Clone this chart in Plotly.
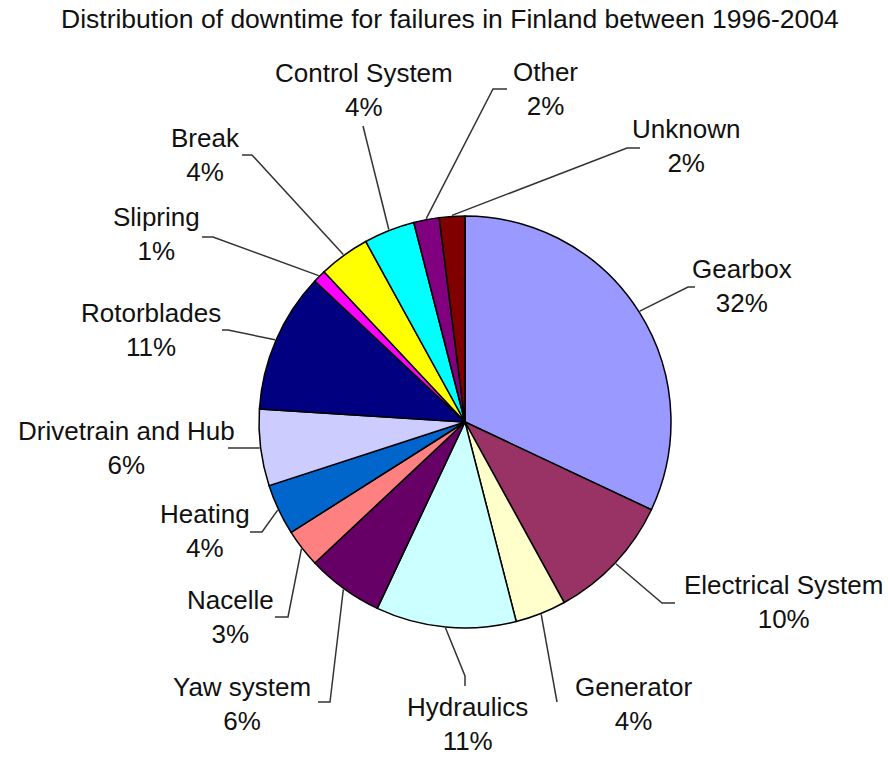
import math
import plotly.graph_objects as go

# ---------------- data ----------------
title_text = "Distribution of downtime for failures in Finland between 1996-2004"
categories = ["Gearbox", "Electrical System", "Generator", "Hydraulics", "Yaw system",
              "Nacelle", "Heating", "Drivetrain and Hub", "Rotorblades", "Slipring",
              "Break", "Control System", "Other", "Unknown"]
downtime_pct = [32, 10, 4, 11, 6, 3, 4, 6, 11, 1, 4, 4, 2, 2]

# ---------------- styling / layout ----------------
colors = ["#9999FF", "#993366", "#FFFFCC", "#CCFFFF", "#660066", "#FF8080", "#0066CC",
          "#CCCCFF", "#000080", "#FF00FF", "#FFFF00", "#00FFFF", "#800080", "#800000"]

W, H = 888, 758
PAGE_OFF = 0               # body margin removed via post_script
CX, CY, R = 465, 422, 206  # pie centre and radius in screen pixels
FONT = "Liberation Sans, Arial, sans-serif"

label_pos = [(742, 286), (783, 602), (633, 704), (467, 724), (242, 704), (230, 617),
             (205, 531), (126, 448), (151, 330), (156, 234), (205, 155), (364, 90),
             (545, 89), (686, 146)]
leader_elbows = [
    [(688, 287), (695, 287)],
    [(662, 603), (675, 603)],
    [(557, 702)],
    [(465, 676), (465, 686)],
    [(330, 702), (318, 702)],
    [(288, 617), (275, 617)],
    [(262, 532), (250, 532)],
    [(228, 448)],
    [(228, 330), (222, 330)],
    [(213, 237), (202, 237)],
    [(252, 155), (242, 155)],
    [(363, 126)],
    [(493, 89), (507, 89)],
    [(627, 148), (640, 148)],
]

fig = go.Figure()

pcx, pcy = CX - PAGE_OFF, CY - PAGE_OFF
fig.add_trace(go.Pie(
    labels=categories,
    values=downtime_pct,
    sort=False,
    direction="clockwise",
    rotation=0,
    marker=dict(colors=colors, line=dict(color="#000000", width=1.5)),
    textinfo="none",
    showlegend=False,
    domain=dict(x=[(pcx - R) / W, (pcx + R) / W],
                y=[1 - (pcy + R) / H, 1 - (pcy - R) / H]),
))

# leader lines: start at the slice's mid-angle on the rim (computed from data)
total = sum(downtime_pct)
cum = 0
for i, v in enumerate(downtime_pct):
    theta = 2 * math.pi * (cum + v / 2) / total
    cum += v
    sx = CX + (R + 1) * math.sin(theta)
    sy = CY - (R + 1) * math.cos(theta)
    xs = [sx] + [p[0] for p in leader_elbows[i]]
    ys = [sy] + [p[1] for p in leader_elbows[i]]
    fig.add_trace(go.Scatter(x=xs, y=ys, mode="lines",
                             line=dict(color="#333333", width=1.5),
                             showlegend=False, hoverinfo="skip",
                             xaxis="x", yaxis="y"))

annotations = []
for i, (cat, v) in enumerate(zip(categories, downtime_pct)):
    x, y = label_pos[i]
    annotations.append(dict(x=x, y=y, xref="x", yref="y", text=f"{cat}<br>{v}%",
                            showarrow=False, xanchor="center", yanchor="middle",
                            align="center",
                            font=dict(family=FONT, size=26, color="#111111")))
annotations.append(dict(x=450, y=19, xref="x", yref="y", text=title_text,
                        showarrow=False, xanchor="center", yanchor="middle",
                        font=dict(family=FONT, size=26.5, color="#111111")))

fig.update_layout(
    width=W, height=H,
    margin=dict(l=0, r=0, t=0, b=0),
    paper_bgcolor="white", plot_bgcolor="rgba(0,0,0,0)",
    xaxis=dict(range=[PAGE_OFF, W + PAGE_OFF], visible=False, domain=[0, 1], fixedrange=True),
    yaxis=dict(range=[H + PAGE_OFF, PAGE_OFF], visible=False, domain=[0, 1], fixedrange=True),
    annotations=annotations,
)

fig.write_html("out.html",
               config={"displayModeBar": False},
               post_script="document.body.style.margin='0';document.body.style.overflow='hidden';")
